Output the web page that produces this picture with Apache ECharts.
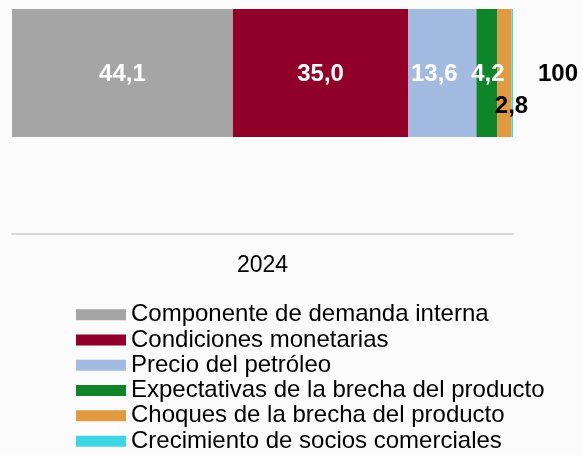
<!DOCTYPE html>
<html><head><meta charset="utf-8">
<script src="https://cdn.jsdelivr.net/npm/echarts@6/dist/echarts.min.js"></script>
<style>html,body{margin:0;padding:0;background:#fbfbfb}#c{width:583px;height:455px}</style>
</head><body><div id="c"></div>
<script>
const categories = ['2024'];
const seriesNames = ['Componente de demanda interna','Condiciones monetarias','Precio del petróleo','Expectativas de la brecha del producto','Choques de la brecha del producto','Crecimiento de socios comerciales'];
const demanda = [44.1];
const monetarias = [35.0];
const petroleo = [13.6];
const expectativas = [4.2];
const choques = [2.8];
const socios = [0.3];
const colors = ['#a5a5a5','#910028','#a4bbe1','#0f8429','#e29a41','#3fd6e4'];
const allValues = [demanda, monetarias, petroleo, expectativas, choques, socios];
const total = allValues.reduce((s,a)=>s+a[0],0);
const font = "'Liberation Sans', Arial, sans-serif";
const fmt = v => v.toFixed(1).replace('.', ',');

const labelCfg = [
  {color:'#fff', offset:[0,1]},
  {color:'#fff', offset:[0,1]},
  {color:'#fff', offset:[-8,1]},
  {color:'#fff', offset:[1,1]},
  {color:'#000', offset:[7,33]},
  null
];

const series = seriesNames.map((n,i)=>{
  const s = {
    name:n, type:'bar', stack:'t', xAxisIndex:0, yAxisIndex:0,
    barWidth:'100%', itemStyle:{color:colors[i]},
    data: allValues[i], animation:false
  };
  if (labelCfg[i]) {
    s.label = {show:true, position:'inside', color:labelCfg[i].color, offset:labelCfg[i].offset,
      fontFamily:font, fontWeight:'bold', fontSize:24, formatter:p=>fmt(p.value)};
  } else {
    s.label = {show:true, position:'right', distance:25, color:'#000', fontFamily:font,
      fontWeight:'bold', fontSize:24, offset:[0,1], formatter:()=>String(Math.round(total))};
  }
  return s;
});
series.push({type:'bar', xAxisIndex:1, yAxisIndex:1, data:[null], silent:true});

const chart = echarts.init(document.getElementById('c'));
chart.setOption({
  backgroundColor:'#fbfbfb',
  animation:false,
  grid:[
    {left:12, right:70, top:9, height:128},
    {left:12, right:70, top:150, bottom:221}
  ],
  xAxis:[
    {type:'value', gridIndex:0, min:0, max:100, show:false},
    {type:'category', gridIndex:1, data:categories, axisLine:{lineStyle:{color:'#d9d9d9', width:2}},
     axisTick:{show:false}, axisLabel:{color:'#000', fontFamily:font, fontSize:23, margin:20}}
  ],
  yAxis:[
    {type:'category', gridIndex:0, data:categories, show:false},
    {type:'value', gridIndex:1, show:false}
  ],
  legend:{
    data:seriesNames, orient:'vertical', left:76, top:302, padding:0,
    itemWidth:50, itemHeight:11, itemGap:0, icon:'rect',
    textStyle:{fontFamily:font, fontSize:24, color:'#000', lineHeight:25.3}
  },
  series:series
});
</script></body></html>
